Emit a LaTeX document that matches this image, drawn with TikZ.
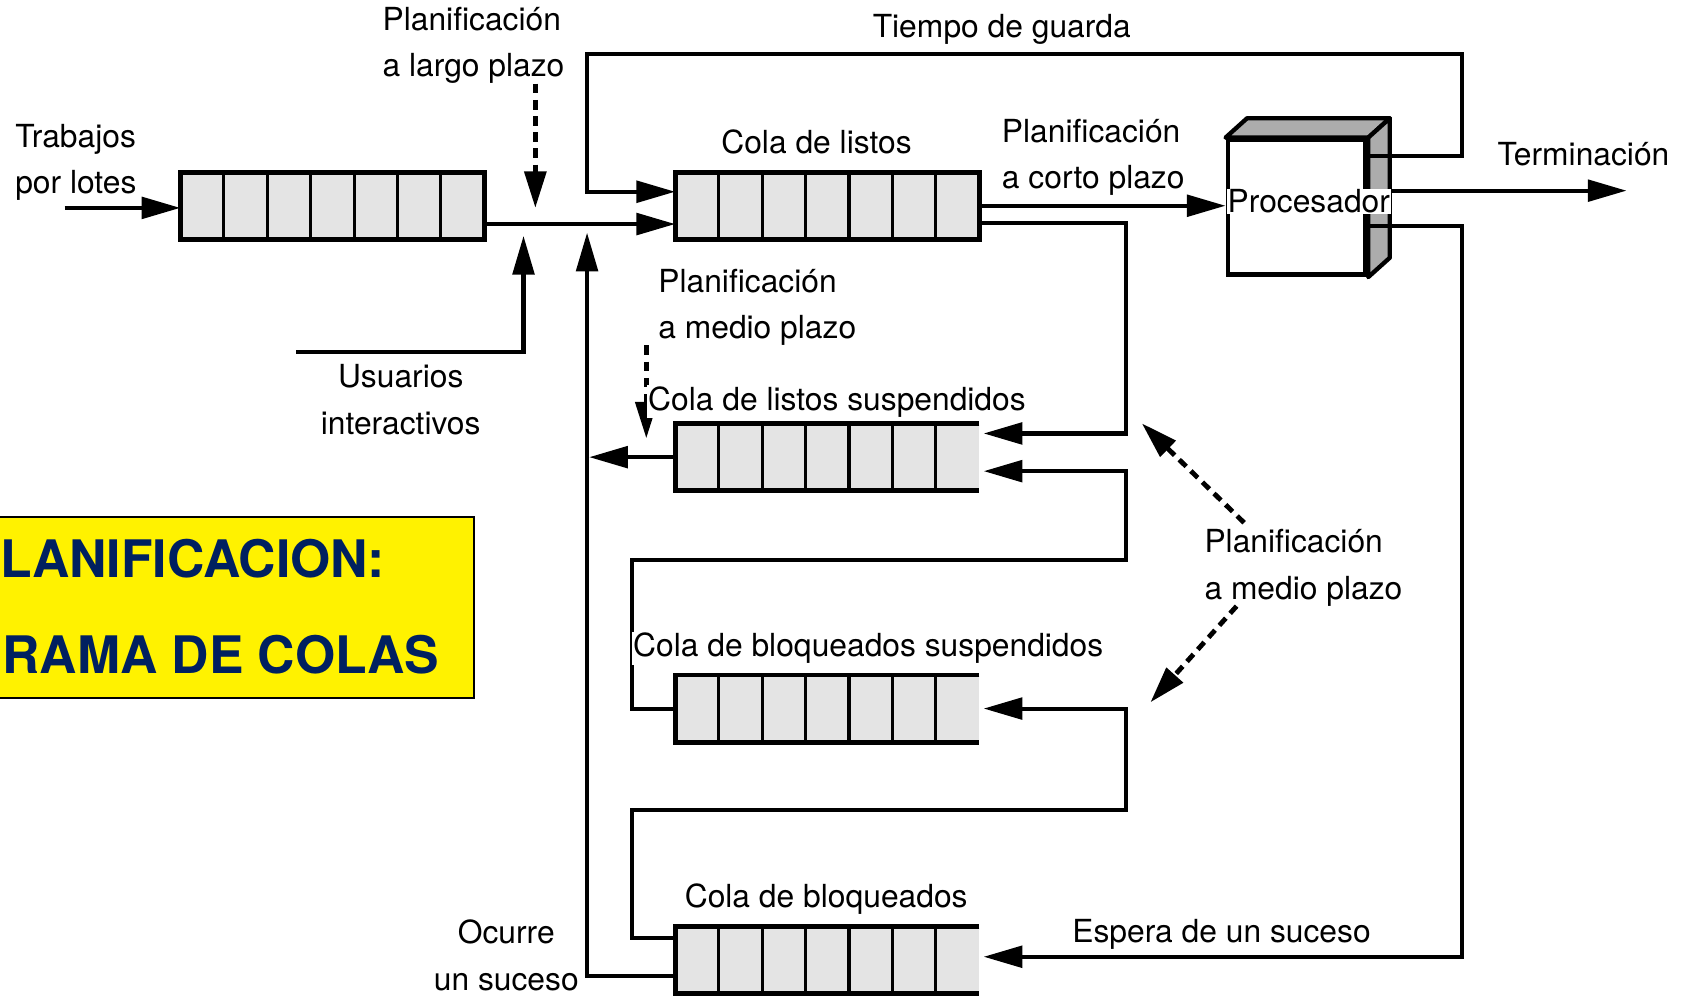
\documentclass[tikz,border=0pt]{standalone}
\usepackage{fontspec}
\setmainfont{TeX Gyre Heros}
\usetikzlibrary{positioning,arrows.meta}
\definecolor{gris}{RGB}{228,228,228}
\definecolor{grisoscuro}{RGB}{172,172,172}
\definecolor{azultitulo}{RGB}{0,32,96}

\begin{document}
\begin{tikzpicture}[x=1pt, y=-1pt,
        cola/.style = {
            fill=gris,
            minimum width=282pt,
            minimum height=62pt,
            inner sep=0pt,
            path picture={
                \foreach \k in {1,...,6}
                    \draw[line width=2.8pt] ([xshift=\k*40.29pt]path picture bounding box.north west) -- ([xshift=\k*40.29pt]path picture bounding box.south west);
            }
        },
        borde/.style = {line width=4.5pt},
        cara/.style = {line width=4pt, fill=grisoscuro, line join=round},
        flecha/.style = {line width=3.8pt, -{Triangle[length=36pt,width=20pt]}},
        punteada/.style = {line width=4.5pt, dash pattern=on 9pt off 6pt, -{Triangle[length=34pt,width=20pt]}},
        texto/.style = {font=\fontsize{29.5}{43}\selectfont, inner sep=0pt, align=left},
        titulo/.style = {font=\fontsize{48}{58}\selectfont\bfseries, text=azultitulo, inner sep=0pt},
        node distance=171pt]

        \useasboundingbox (0,0) rectangle (1568,924);

        % colas
        \node[cola] (ql) at (768,191) {};
        \node[cola, left=177pt of ql] (qb) {};
        \node[cola, below=of ql] (qls) {};
        \node[cola, below=of qls] (qbs) {};
        \node[cola, below=of qbs] (qbl) {};
        \foreach \q in {qls,qbs,qbl}
            \draw[borde] (\q.north east) -- (\q.north west) -- (\q.south west) -- (\q.south east);
        \foreach \q in {qb,ql}
            \draw[borde] (\q.north west) rectangle (\q.south east);

        % procesador
        \node[draw, line width=4.5pt, fill=white, minimum width=128pt, minimum height=125pt] (proc) at (1204,192.5) {};
        \filldraw[cara] (proc.north west) -- ++(20,-18) -- ([shift={(20,-18)}]proc.north east) -- (proc.north east) -- cycle;
        \filldraw[cara] (proc.north east) -- ++(20,-18) -- ([shift={(20,-18)}]proc.south east) -- (proc.south east) -- cycle;

        % puntos sueltos
        \coordinate (ent) at (60,193);
        \coordinate (dl) at (497,193);
        \coordinate (usu) at (275,327);
        \coordinate (ju) at (486,219);
        \coordinate (jo) at (545,216);
        \coordinate (dq) at (600,407);
        \coordinate (m1) at (1060,393);
        \coordinate (m2) at (1068,652);
        \coordinate (pg) at (1272,145);
        \coordinate (pt) at (1272,177);
        \coordinate (pe) at (1272,210);
        \coordinate (fin) at (1510,177);
        \coordinate (guarda) at (1357,50);
        \coordinate (xr) at (1045,0);
        \coordinate (c1) at (587,520);
        \coordinate (c2) at (587,752);
        \coordinate (e1) at ([yshift=13pt]ql.west);
        \coordinate (s1) at ([xshift=4pt,yshift=22pt]qls.east);
        \coordinate (s2) at ([xshift=4pt,yshift=-13pt]qls.east);
        \coordinate (s3) at ([xshift=4pt]qbs.east);
        \coordinate (s4) at ([xshift=4pt,yshift=3pt]qbl.east);

        % flechas
        \draw[flecha] (ent) -- (ent -| qb.west);
        \draw[flecha] ([yshift=-17pt]qb.east) -- ([yshift=-17pt]ql.west);
        \draw[flecha] (usu) -| (ju);
        \draw[flecha] ([yshift=-15pt]qbl.west) -| (jo);
        \draw[flecha, shorten >=2pt] (qls.west) -- (qls.west -| jo);
        \draw[flecha] (pg) -| (guarda) -| (jo |- e1) -- (e1);
        \draw[flecha] (ql.east) -- (ql.east -| proc.west);
        \draw[flecha] (pt) -- (fin);
        \draw[flecha] ([yshift=-16pt]ql.east) -| (xr |- s1) -- (s1);
        \draw[flecha] (qbs.west) -| (c1) -| (xr |- s2) -- (s2);
        \draw[flecha] ([yshift=20pt]qbl.west) -| (c2) -| (xr |- s3) -- (s3);
        \draw[flecha] (pe) -| (guarda |- s4) -- (s4);

        % etiquetas
        \node[texto, anchor=west] (ttrab) at (14,151) {Trabajos\\por lotes};
        \node[texto, anchor=west] (tlargo) at (355,42) {Planificación\\a largo plazo};
        \node[texto] (tguarda) at (930,27) {Tiempo de guarda};
        \node[texto, above=17pt of ql, xshift=-10pt] (tql) {Cola de listos};
        \node[texto, anchor=west] (tcorto) at (930,146) {Planificación\\a corto plazo};
        \node[texto] (tterm) at (1470,143) {Terminación};
        \node[texto, fill=white, inner sep=1pt] (tproc) at (1215,187) {Procesador};
        \node[texto, anchor=west] (tmedio1) at (611,285) {Planificación\\a medio plazo};
        \node[texto, align=center] (tusu) at (372,371) {Usuarios\\interactivos};
        \node[texto, anchor=west] (tmedio2) at (1118,527) {Planificación\\a medio plazo};
        \node[texto] (tbl) at (767,835) {Cola de bloqueados};
        \node[texto, align=center] (tocurre) at (470,887) {Ocurre\\un suceso};
        \node[texto] (tespera) at (1134,867) {Espera de un suceso};

        % lineas de trazos
        \draw[punteada] (tlargo.south -| dl) -- (dl);
        \draw[punteada] (tmedio1.south -| dq) -- (dq);
        \draw[punteada] ([xshift=37pt,yshift=6pt]tmedio2.north west) -- (m1);
        \draw[punteada] ([xshift=30pt]tmedio2.south west) -- (m2);

        \node[texto, fill=white, inner sep=1pt] (tls) at (777,373) {Cola de listos suspendidos};
        \node[texto, fill=white, inner sep=1pt] (tbs) at (806,602) {Cola de bloqueados suspendidos};

        % cartel
        \node[draw, fill=yellow, line width=1.5pt, minimum width=470pt, minimum height=168pt, anchor=north east] (marco) at (441,479) {};
        \node[titulo, anchor=west] (t1) at (0,519) {LANIFICACION:};
        \node[titulo, anchor=west] (t2) at (2,608) {RAMA DE COLAS};
    \end{tikzpicture}
\end{document}
